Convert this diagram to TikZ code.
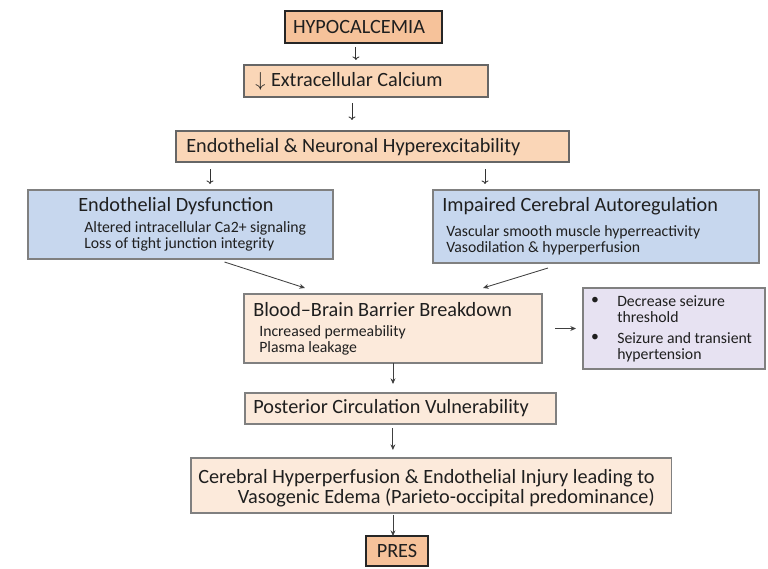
\documentclass[tikz,border=0pt]{standalone}
\usepackage{fontspec}
\setmainfont{Carlito}
\usetikzlibrary{arrows.meta, positioning}
\definecolor{hotfill}{HTML}{F6C29A}
\definecolor{warmfill}{HTML}{FAD6B7}
\definecolor{palefill}{HTML}{FCEADB}
\definecolor{bluefill}{HTML}{C7D7EE}
\definecolor{lilacfill}{HTML}{E7E2F2}
\definecolor{boxline}{HTML}{808080}
\definecolor{inkgray}{HTML}{404040}
\tikzset{
	block/.style={draw=boxline, line width=0.8pt, inner sep=0pt, outer sep=0pt},
	hotblock/.style={block, draw=black!85, line width=1.2pt, fill=hotfill},
	warmblock/.style={block, draw=black!60, fill=warmfill},
	paleblock/.style={block, fill=palefill},
	blueblock/.style={block, fill=bluefill},
	lilacblock/.style={block, fill=lilacfill},
	label/.style={inner sep=0pt, text=black!88},
	flow/.style={-{Stealth[length=4pt,width=3.5pt]}, draw=inkgray, line width=0.6pt},
	glyph/.style={-{To[length=2.5pt,width=5pt]}, draw=black!80, line width=0.6pt}
}
\newcommand{\headfont}{\fontsize{14.4}{16.1}\selectfont}
\newcommand{\notefont}{\fontsize{11.2}{12.3}\selectfont}
\newcommand{\bulletfont}{\fontsize{11.2}{13}\selectfont}

\begin{document}
\begin{tikzpicture}[x=0.025cm, y=-0.025cm]
		\useasboundingbox (0,0) rectangle (768,569);
		
		\node[hotblock, minimum width=3.925cm, minimum height=0.8cm] (hypo) at (363.5,27) {};
		\node[label] (hypotext) at (359,27) {\headfont HYPOCALCEMIA};
		
		\node[warmblock, minimum width=6.1cm, minimum height=0.8cm] (calcium) at (366,81) {};
		\node[label, anchor=base west] (calciumtext) at (255,87) {\headfont $\downarrow$\hspace{4pt}Extracellular Calcium};
		
		\node[warmblock, minimum width=9.825cm, minimum height=0.775cm] (hyper) at (372.5,146.5) {};
		\node[label, anchor=base west] (hypertext) at (186,153) {\headfont Endothelial \& Neuronal Hyperexcitability};
		
		\node[blueblock, minimum width=7.625cm, minimum height=1.725cm] (dysf) at (180.5,224.5) {};
		\node[label, anchor=base west] (dysftitle) at (78,212) {\headfont Endothelial Dysfunction};
		\node[label, anchor=base west, align=left] (dysfnotes) at (84,249) {\notefont Altered intracellular Ca2+ signaling\\ \notefont Loss of tight junction integrity};
		
		\node[blueblock, minimum width=8.15cm, minimum height=1.825cm] (autoreg) at (596,226.5) {};
		\node[label, anchor=base west] (autoregtitle) at (442,212) {\headfont Impaired Cerebral Autoregulation};
		\node[label, anchor=base west, align=left] (autoregnotes) at (446,253) {\notefont Vascular smooth muscle hyperreactivity\\ \notefont Vasodilation \& hyperperfusion};
		
		\node[paleblock, minimum width=7.45cm, minimum height=1.725cm] (bbb) at (393,328.5) {};
		\node[label, anchor=base west] (bbbtitle) at (253,317) {\headfont Blood--Brain Barrier Breakdown};
		\node[label, anchor=base west, align=left] (bbbnotes) at (259,353) {\notefont Increased permeability\\ \notefont Plasma leakage};
		
		\node[lilacblock, minimum width=4.55cm, minimum height=2.025cm] (seizure) at (674,328.5) {};
		\node[label] (dot1) at (595,301) {\notefont •};
		\node[label, anchor=base west, align=left] (seizure1) at (617,323) {\bulletfont Decrease seizure\\ \bulletfont threshold};
		\node[label] (dot2) at (595,338) {\notefont •};
		\node[label, anchor=base west, align=left] (seizure2) at (617,360) {\bulletfont Seizure and transient\\ \bulletfont hypertension};
		
		\node[paleblock, minimum width=7.775cm, minimum height=0.775cm] (post) at (400.5,408.5) {};
		\node[label, anchor=base west] (posttext) at (253,414) {\headfont Posterior Circulation Vulnerability};
		
		\node[paleblock, minimum width=12cm, minimum height=1.375cm] (edema) at (431,485.5) {};
		\node[label, anchor=base east, align=right] (edematext) at (655,503) {\headfont Cerebral Hyperperfusion \& Endothelial Injury leading to\\ \headfont Vasogenic Edema (Parieto-occipital predominance)};
		
		\node[hotblock, minimum width=1.55cm, minimum height=0.75cm] (pres) at (397,551) {};
		\node[label] (prestext) at (pres) {\headfont PRES};
		
		% short glyph-like arrows at the top
		\draw[glyph, shorten <=0.1cm, shorten >=0.125cm] ([xshift=-0.19cm]hypo.south) -- ([xshift=-0.19cm]hypo.south |- calcium.north);
		\draw[glyph, shorten <=0.15cm, shorten >=0.275cm] ([xshift=-0.35cm]calcium.south) -- ([xshift=-0.35cm]calcium.south |- hyper.north);
		\draw[glyph, shorten <=0.175cm, shorten >=0.15cm] ([xshift=0.85cm]hyper.south west) -- ([xshift=0.85cm]hyper.south west |- dysf.north);
		\draw[glyph, shorten <=0.175cm, shorten >=0.15cm] ([xshift=7.725cm]hyper.south west) -- ([xshift=7.725cm]hyper.south west |- autoreg.north);
		
		\draw[flow] ([xshift=1.1cm, yshift=-0.075cm]dysf.south) -- ([xshift=1.525cm, yshift=0.15cm]bbb.north west);
		\draw[flow] ([xshift=-1.2cm, yshift=-0.125cm]autoreg.south) -- ([xshift=-1.475cm, yshift=0.15cm]bbb.north east);
		
		\draw[flow, shorten <=0.325cm, shorten >=0.175cm] (bbb.east) -- (seizure.west);
		\draw[flow, shorten >=0.225cm] (bbb.south) -- (bbb.south |- post.north);
		\draw[flow, shorten <=0.1cm, shorten >=0.2cm] ([xshift=-0.19cm]post.south) -- ([xshift=-0.19cm]post.south |- edema.north);
		\draw[flow, shorten <=0.05cm] ([xshift=-0.1cm]pres.north |- edema.south) -- ([xshift=-0.1cm]pres.north);
	\end{tikzpicture}
\end{document}
